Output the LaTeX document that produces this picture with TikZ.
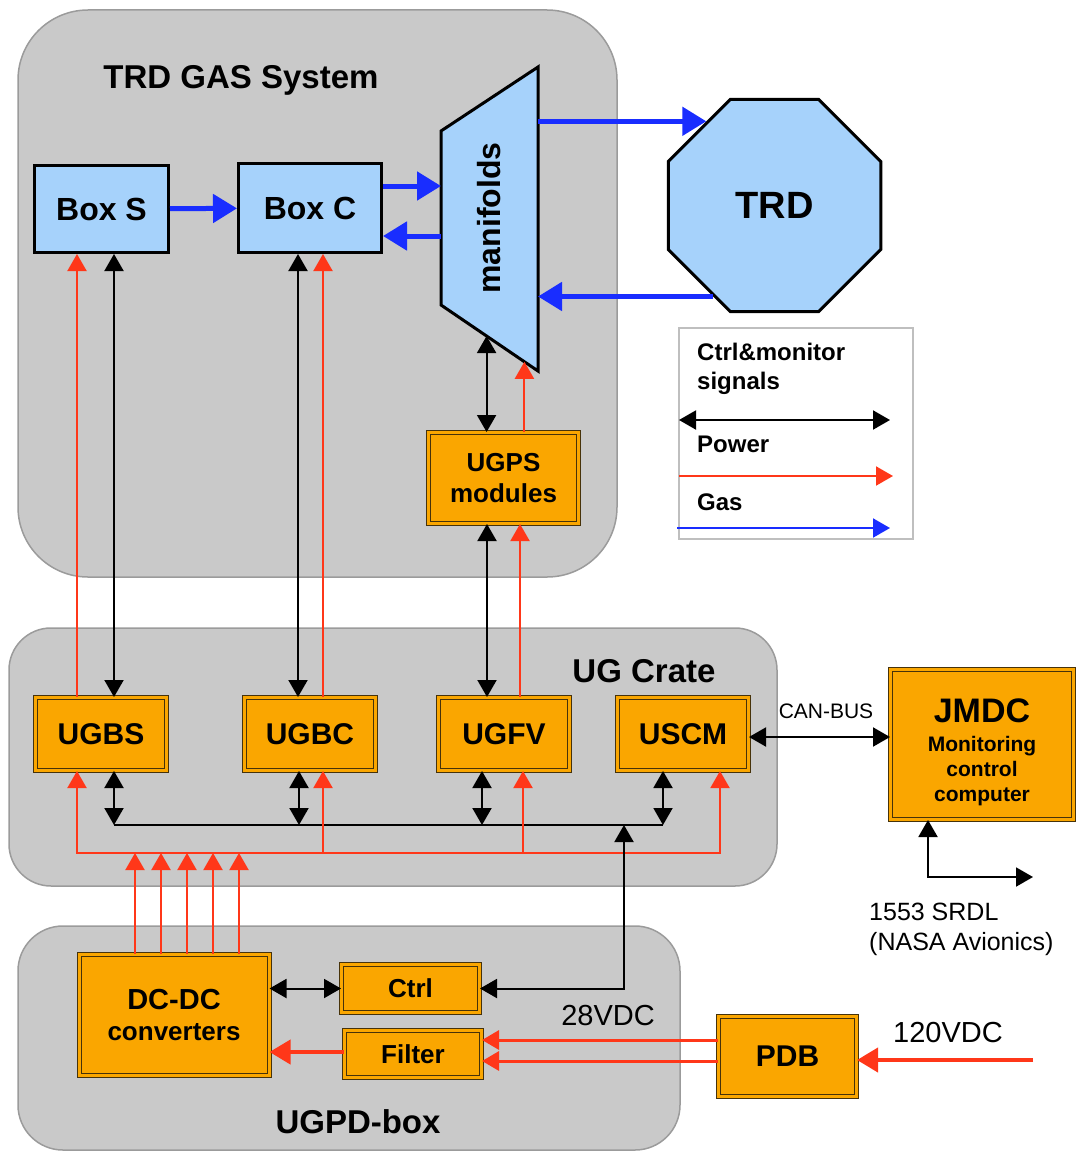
\documentclass[tikz,border=0pt]{standalone}
\usepackage{fontspec}
\setmainfont{Liberation Sans}
\usepackage{xcolor}
\usepackage{tikz}
\usetikzlibrary{arrows.meta,shapes.geometric,calc}

\definecolor{panelgray}{RGB}{201,201,201}
\definecolor{panelline}{RGB}{155,155,155}
\definecolor{gasfill}{RGB}{166,210,251}
\definecolor{modfill}{RGB}{250,166,0}
\definecolor{modline}{RGB}{70,50,10}
\definecolor{gasblue}{RGB}{25,45,255}
\definecolor{pwrred}{RGB}{255,55,25}

\begin{document}
\begin{tikzpicture}[x=1pt, y=-1pt,
    panel/.style={draw=panelline, line width=1.5pt, fill=panelgray},
    gasbox/.style={draw, line width=3pt, fill=gasfill, inner sep=0pt, font=\fontsize{32}{36}\selectfont\bfseries},
    modbox/.style={draw=modline, line width=1pt, double=modfill, double distance=3pt, fill=modfill, inner sep=0pt, align=center},
    title/.style={font=\fontsize{33}{38}\selectfont\bfseries, anchor=base},
    note/.style={font=\fontsize{29}{33}\selectfont, anchor=base},
    gasarr/.style={-{Triangle[length=24pt, width=28pt]}, line width=5pt, gasblue},
    pwr/.style={-{Triangle[length=17pt, width=19pt]}, line width=2pt, pwrred},
    pwrthick/.style={-{Triangle[length=21pt, width=24pt]}, line width=4pt, pwrred},
    pwrboth/.style={{Triangle[length=17pt, width=19pt]}-{Triangle[length=17pt, width=19pt]}, line width=2pt, pwrred},
    ctl/.style={{Triangle[length=17pt, width=19pt]}-{Triangle[length=17pt, width=19pt]}, line width=2pt},
    cline/.style={line width=2pt}
]
\useasboundingbox (0,0) rectangle (1077,1153);

% Panels
\draw[panel, rounded corners=70pt] (18,10) rectangle (617,577);
\draw[panel, rounded corners=42pt] (9,628) rectangle (777,886);
\draw[panel, rounded corners=45pt] (18,926) rectangle (680,1150);
\node[title] (gastitle) at (241,89) {TRD GAS System};
\node[title] (cratetitle) at (644,682) {UG Crate};
\node[title] (pdtitle) at (358,1133) {UGPD-box};

% Gas system
\node[gasbox, minimum width=134pt, minimum height=87pt] (boxs) at (101.5,209) {Box S};
\node[gasbox, minimum width=143pt, minimum height=89pt] (boxc) at (310,208) {Box C};
\draw[line width=3pt, fill=gasfill] (441,131) coordinate (mtl) -- (538,67) coordinate (mtr)
    -- (538,371) coordinate (mbr) -- (441,305) coordinate (mbl) -- cycle;
\node[rotate=90, font=\fontsize{32}{36}\selectfont\bfseries] (mani) at (489,218) {manifolds};
\coordinate (mb1) at ($(mbl)!0.47!(mbr)$);
\coordinate (mb2) at ($(mbl)!0.86!(mbr)$);
\node[regular polygon, regular polygon sides=8, minimum size=230pt, draw, line width=3pt,
    fill=gasfill, inner sep=0pt, font=\fontsize{38}{42}\selectfont\bfseries] (trd) at (774.5,205.5) {TRD};
\node[modbox, minimum width=150pt, minimum height=91pt, font=\fontsize{26}{31}\selectfont\bfseries] (ugps) at (503.5,478) {UGPS\\modules};

\draw[gasarr] (boxs) -- (boxc);
\draw[gasarr] ([yshift=22pt]boxc.east) -- ([yshift=22pt]boxc.east -| mtl);
\draw[gasarr] ([yshift=-28pt]boxc.east -| mtl) -- ([yshift=-28pt]boxc.east);
\draw[gasarr] (trd.129 -| mtr) -- (trd.129);
\draw[gasarr] (trd.236) -- (trd.236 -| mtr);
\draw[ctl] (mb1) -- (mb1 |- ugps.north);
\draw[pwr] (mb2 |- ugps.north) -- (mb2);

% Legend
\draw[draw=black!25, line width=1.5pt] (679,328) rectangle (913,539);
\node[anchor=north west, inner sep=0pt, align=left, font=\fontsize{24}{29}\selectfont\bfseries] (lgctl) at (697,343) {Ctrl\&monitor\\signals};
\node[anchor=base west, inner sep=0pt, font=\fontsize{24}{29}\selectfont\bfseries] (lgpwr) at (697,452) {Power};
\node[anchor=base west, inner sep=0pt, font=\fontsize{24}{29}\selectfont\bfseries] (lggas) at (697,510) {Gas};
\coordinate (lc1) at (679,420); \coordinate (lc2) at (890,420);
\coordinate (lp1) at (679,476); \coordinate (lp2) at (893,476);
\coordinate (lg1) at (677,528); \coordinate (lg2) at (890,528);
\draw[ctl] (lc1) -- (lc2);
\draw[pwr] (lp1) -- (lp2);
\draw[pwr, gasblue] (lg1) -- (lg2);

% UG Crate
\node[modbox, minimum width=131pt, minimum height=73pt, font=\fontsize{30}{34}\selectfont\bfseries] (ugbs) at (101,734) {UGBS};
\node[modbox, minimum width=131pt, minimum height=73pt, font=\fontsize{30}{34}\selectfont\bfseries] (ugbc) at (310,734) {UGBC};
\node[modbox, minimum width=131pt, minimum height=73pt, font=\fontsize{30}{34}\selectfont\bfseries] (ugfv) at (504,734) {UGFV};
\node[modbox, minimum width=131pt, minimum height=73pt, font=\fontsize{30}{34}\selectfont\bfseries] (uscm) at (683,734) {USCM};
\coordinate (cbus) at (0,825);
\coordinate (pbus) at (0,853);

\draw[pwr] ([xshift=-24pt]ugbs.north) -- ([xshift=-24pt]ugbs.north |- boxs.south);
\draw[ctl] ([xshift=13pt]ugbs.north) -- ([xshift=13pt]ugbs.north |- boxs.south);
\draw[ctl] ([xshift=-12pt]ugbc.north) -- ([xshift=-12pt]ugbc.north |- boxc.south);
\draw[pwr] ([xshift=13pt]ugbc.north) -- ([xshift=13pt]ugbc.north |- boxc.south);
\draw[ctl] ([xshift=-17pt]ugfv.north) -- ([xshift=-17pt]ugfv.north |- ugps.south);
\draw[pwr] ([xshift=16pt]ugfv.north) -- ([xshift=16pt]ugfv.north |- ugps.south);

% buses
\draw[cline] ([xshift=13pt]ugbs.south |- cbus) -- ([xshift=-20pt]uscm.south |- cbus);
\draw[ctl] ([xshift=13pt]ugbs.south) -- ([xshift=13pt]ugbs.south |- cbus);
\draw[ctl] ([xshift=-11pt]ugbc.south) -- ([xshift=-11pt]ugbc.south |- cbus);
\draw[ctl] ([xshift=-22pt]ugfv.south) -- ([xshift=-22pt]ugfv.south |- cbus);
\draw[ctl] ([xshift=-20pt]uscm.south) -- ([xshift=-20pt]uscm.south |- cbus);
\draw[pwrboth] ([xshift=-24pt]ugbs.south) |- ([xshift=37pt]uscm.south |- pbus) -- ([xshift=37pt]uscm.south);
\draw[pwr] ([xshift=13pt]ugbc.south |- pbus) -- ([xshift=13pt]ugbc.south);
\draw[pwr] ([xshift=19pt]ugfv.south |- pbus) -- ([xshift=19pt]ugfv.south);

% JMDC
\node[modbox, minimum width=183pt, minimum height=150pt] (jmdc) at (982,744.5) {};
\node[align=center, inner sep=0pt, font=\fontsize{21}{25}\selectfont\bfseries] (jmdctxt) at (982,752)
    {{\fontsize{34}{34}\selectfont JMDC}\\[4pt]Monitoring\\control\\computer};
\draw[ctl] ([yshift=-3pt]uscm.east) -- ([yshift=-3pt]uscm.east -| jmdc.west);
\node[font=\fontsize{21}{25}\selectfont, anchor=base] (canbus) at (826,718) {CAN-BUS};
\coordinate (srdl) at (1033,877);
\draw[ctl] ([xshift=-54pt]jmdc.south) |- (srdl);
\node[anchor=north west, inner sep=0pt, align=left, font=\fontsize{25}{30}\selectfont] (srdltxt) at (869,903) {1553 SRDL\\(NASA Avionics)};

% UGPD-box
\node[modbox, minimum width=190pt, minimum height=121pt, font=\fontsize{26}{31}\selectfont\bfseries] (dcdc) at (174,1015)
    {{\fontsize{29}{31}\selectfont DC-DC}\\converters};
\node[modbox, minimum width=138pt, minimum height=48pt, font=\fontsize{26}{31}\selectfont\bfseries] (ctrl) at (410.5,988.5) {Ctrl};
\node[modbox, minimum width=137pt, minimum height=47pt, font=\fontsize{26}{31}\selectfont\bfseries] (filter) at (413,1054) {Filter};
\node[modbox, minimum width=138pt, minimum height=80pt, font=\fontsize{30}{34}\selectfont\bfseries] (pdb) at (787.5,1056.5) {PDB};

\foreach \dx in {-39,-13,13,39,65}
    \draw[pwr] ([xshift=\dx pt]dcdc.north) -- ([xshift=\dx pt]dcdc.north |- pbus);
\draw[ctl] (dcdc.east |- ctrl) -- (ctrl.west);
\draw[ctl] (ctrl.east) -| ([xshift=-59pt]uscm.south |- cbus);
\draw[pwrthick] ([yshift=2pt]filter.west) -- ([yshift=2pt]filter.west -| dcdc.east);
\draw[pwr, line width=3pt] ([yshift=14pt]filter.east -| pdb.west) -- ([yshift=14pt]filter.east);
\draw[pwr, line width=3pt] ([yshift=-7pt]filter.east -| pdb.west) -- ([yshift=-7pt]filter.east);
\node[note] (v28) at (608,1025) {28VDC};
\coordinate (vin) at (1033,1060);
\draw[pwrthick] (vin) -- (vin -| pdb.east);
\node[note] (v120) at (948,1042) {120VDC};
\end{tikzpicture}
\end{document}
